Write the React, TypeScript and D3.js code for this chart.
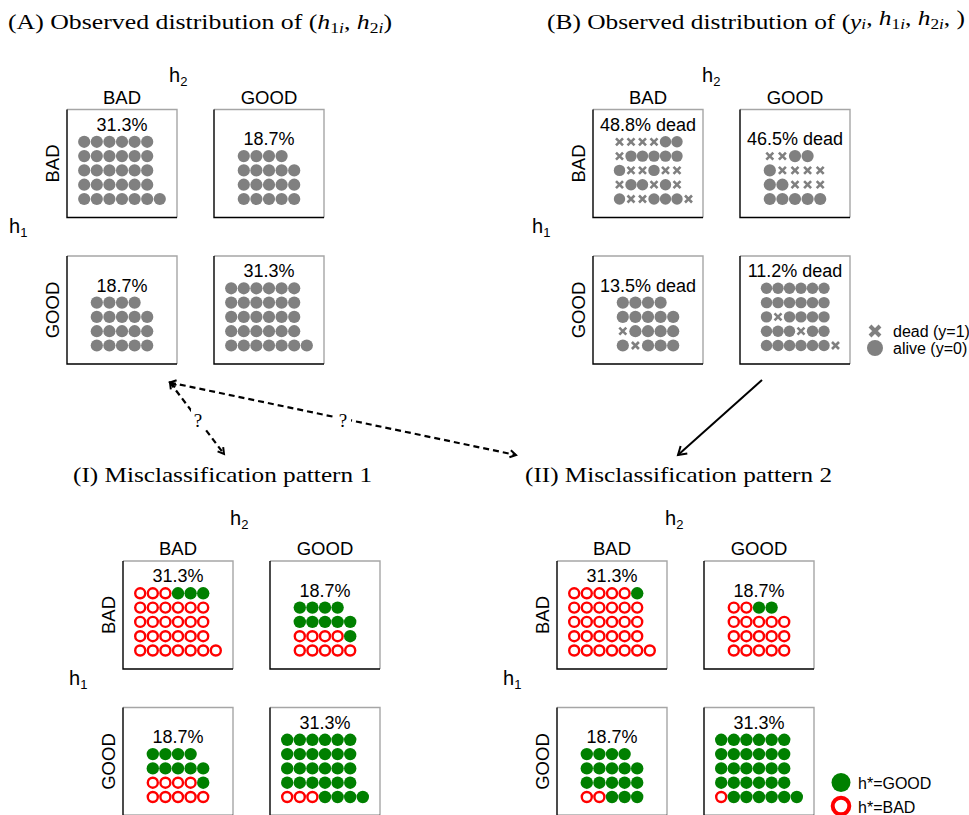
import React from "react";
import * as d3 from "d3";

// ---------------- data ----------------
const h2Levels = ["BAD", "GOOD"];
const h1Levels = ["BAD", "GOOD"];
// cell order: [h1=BAD,h2=BAD], [h1=BAD,h2=GOOD], [h1=GOOD,h2=BAD], [h1=GOOD,h2=GOOD]
const pctA = ["31.3%", "18.7%", "18.7%", "31.3%"];
const pctB = ["48.8% dead", "46.5% dead", "13.5% dead", "11.2% dead"];
const pctI = ["31.3%", "18.7%", "18.7%", "31.3%"];
const pctII = ["31.3%", "18.7%", "18.7%", "31.3%"];

// a = observed unit, x = dead, o = alive, g = h*=GOOD, r = h*=BAD
const marksA = [
  ["aaaaaa", "aaaaaa", "aaaaaa", "aaaaaa", "aaaaaaa"],
  ["aaaa", "aaaaa", "aaaaa", "aaaaa"],
  ["aaaa", "aaaaa", "aaaaa", "aaaaa"],
  ["aaaaaa", "aaaaaa", "aaaaaa", "aaaaaa", "aaaaaaa"],
];
const marksB = [
  ["xxxxoo", "xooooo", "oxxoxx", "xooxox", "oxxooox"],
  ["xxoo", "oxxxx", "ooxxx", "ooooo"],
  ["oooo", "ooooo", "xoooo", "oxooo"],
  ["oooooo", "oooooo", "oxoooo", "oooxoo", "oooooox"],
];
const marksI = [
  ["rrrggg", "rrrrrr", "rrrrrr", "rrrrrr", "rrrrrrr"],
  ["gggg", "ggggg", "rrrrg", "rrrrr"],
  ["gggg", "ggggg", "rrrrg", "rrrrr"],
  ["gggggg", "gggggg", "gggggg", "gggggg", "rrrgggg"],
];
const marksII = [
  ["rrrrrg", "rrrrrr", "rrrrrr", "rrrrrr", "rrrrrrr"],
  ["rrgg", "rrrrr", "rrrrr", "rrrrr"],
  ["gggg", "ggggg", "ggggg", "rrggg"],
  ["gggggg", "gggggg", "gggggg", "gggggg", "rgggggg"],
];
const legendBCodes = ["x", "o"];
const legendBLabels = ["dead (y=1)", "alive (y=0)"];
const legendIICodes = ["g", "r"];
const legendIILabels = ["h*=GOOD", "h*=BAD"];
const arrowLabels = ["?", "?"];

// ---------------- style/layout ----------------
const SANS = "'Liberation Sans', Arial, Helvetica, sans-serif";
const SERIF = "'Liberation Serif', 'Times New Roman', serif";
const GRAY = "#808080";
const GREEN = "#008000";
const RED = "#ff0000";
const BOX_W = 110;
const BOX_H = 108;
const COL_STEP = 147;
const ROW_STEP = 146.5;
const DX = 12.6;
const DY = 14.3;

function Mark({ code, x, y, r }: { code: string; x: number; y: number; r: number }) {
  if (code === "a" || code === "o")
    return <circle cx={x} cy={y} r={r} fill={GRAY} />;
  if (code === "x") {
    const h = 3.5;
    return (
      <path
        d={`M${x - h},${y - h}L${x + h},${y + h}M${x - h},${y + h}L${x + h},${y - h}`}
        stroke={GRAY}
        strokeWidth={2.6}
        fill="none"
      />
    );
  }
  if (code === "g") return <circle cx={x} cy={y} r={6.2} fill={GREEN} />;
  return <circle cx={x} cy={y} r={5} fill="#fff" stroke={RED} strokeWidth={2.4} />;
}

function Cell({
  x0,
  y0,
  rows,
  label,
  dx,
  shift,
  r,
}: {
  x0: number;
  y0: number;
  rows: string[];
  label: string;
  dx: number;
  shift: number;
  r: number;
}) {
  const nRows = rows.length;
  const maxCols = d3.max(rows, (s) => s.length) as number;
  const cx = x0 + BOX_W / 2;
  const gcx = cx + shift;
  const bottomY = y0 + BOX_H - 18.5;
  const xs = d3
    .scaleLinear()
    .domain([0, maxCols - 1])
    .range([gcx - ((maxCols - 1) * dx) / 2, gcx + ((maxCols - 1) * dx) / 2]);
  const ys = d3
    .scaleLinear()
    .domain([0, nRows - 1])
    .range([bottomY - (nRows - 1) * DY, bottomY]);
  return (
    <g>
      <path
        d={`M${x0},${y0}H${x0 + BOX_W}V${y0 + BOX_H}`}
        fill="none"
        stroke="#a6a6a6"
        strokeWidth={1.4}
      />
      <path
        d={`M${x0},${y0}V${y0 + BOX_H}H${x0 + BOX_W}`}
        fill="none"
        stroke="#000"
        strokeWidth={1.4}
      />
      <text x={cx} y={ys(0) - 11} textAnchor="middle" fontFamily={SANS} fontSize={18}>
        {label}
      </text>
      {rows.map((row, i) =>
        row.split("").map((c, j) => (
          <Mark key={`${i}-${j}`} code={c} x={xs(j)} y={ys(i)} r={r} />
        ))
      )}
    </g>
  );
}

function Grid({
  ox,
  oy,
  cells,
  labels,
  h2x,
  h2y,
  h1x,
  h1y,
  wide,
}: {
  ox: number;
  oy: number;
  cells: string[][];
  labels: string[];
  h2x: number;
  h2y: number;
  h1x: number;
  h1y: number;
  wide?: boolean;
}) {
  return (
    <g>
      <text x={h2x} y={h2y} fontFamily={SANS} fontSize={20}>
        h<tspan fontSize={13} dy={4}>2</tspan>
      </text>
      <text x={h1x} y={h1y} fontFamily={SANS} fontSize={20}>
        h<tspan fontSize={13} dy={4}>1</tspan>
      </text>
      {h2Levels.map((lv, j) => (
        <text
          key={"c" + j}
          x={ox + j * COL_STEP + BOX_W / 2}
          y={oy - 6}
          textAnchor="middle"
          fontFamily={SANS}
          fontSize={18.5}
        >
          {lv}
        </text>
      ))}
      {h1Levels.map((lv, i) => (
        <text
          key={"r" + i}
          transform={`translate(${ox - 8},${oy + i * ROW_STEP + BOX_H / 2}) rotate(-90)`}
          textAnchor="middle"
          fontFamily={SANS}
          fontSize={18.5}
        >
          {lv}
        </text>
      ))}
      {cells.map((rows, k) => {
        const i = Math.floor(k / 2);
        const j = k % 2;
        const big = rows.length === 5;
        return (
          <Cell
            key={k}
            x0={ox + j * COL_STEP}
            y0={oy + i * ROW_STEP}
            rows={rows}
            label={labels[k]}
            dx={wide && big ? 11.5 : DX}
            shift={wide && big ? 6 : 0}
            r={wide && big ? 5.7 : 6.1}
          />
        );
      })}
    </g>
  );
}

function Sub({ t, it }: { t: string; it?: string }) {
  return (
    <>
      <tspan fontSize={15} dy={4}>
        {t}
      </tspan>
      {it ? (
        <tspan fontSize={15} fontStyle="italic">
          {it}
        </tspan>
      ) : null}
    </>
  );
}

export default function App() {
  const qx1 = 198,
    qy1 = 420,
    qx2 = 343,
    qy2 = 420;
  return (
    <svg
      width={969}
      height={815}
      style={{ position: "absolute", left: 0, top: 0, background: "#fff" }}
    >
      <defs>
        <marker
          id="ahd"
          viewBox="-10 -8 14 16"
          refX={0}
          refY={0}
          markerWidth={14}
          markerHeight={16}
          markerUnits="userSpaceOnUse"
          orient="auto-start-reverse"
        >
          <path d="M-6,-3.5 L0,0 L-6,3.5" fill="none" stroke="#000" strokeWidth={2} />
        </marker>
        <marker
          id="ahs"
          viewBox="-12 -8 16 16"
          refX={0}
          refY={0}
          markerWidth={16}
          markerHeight={16}
          markerUnits="userSpaceOnUse"
          orient="auto"
        >
          <path d="M-8,-5 L0,0 L-8,5" fill="none" stroke="#000" strokeWidth={2} />
        </marker>
      </defs>
      <rect width={969} height={815} fill="#fff" />

      {/* titles */}
      <text x={8} y={29} fontFamily={SERIF} fontSize={22} textLength={384} lengthAdjust="spacingAndGlyphs">
        {"(A) Observed distribution of ("}
        <tspan fontStyle="italic">h</tspan>
        <Sub t="1" it="i" />
        <tspan dy={-4}>{", "}</tspan>
        <tspan fontStyle="italic">h</tspan>
        <Sub t="2" it="i" />
        <tspan dy={-4}>{")"}</tspan>
      </text>
      <text x={547} y={29} fontFamily={SERIF} fontSize={22} textLength={418} lengthAdjust="spacingAndGlyphs">
        {"(B) Observed distribution of ("}
        <tspan fontStyle="italic">y</tspan>
        <Sub t="" it="i" />
        <tspan dy={-4}>{", "}</tspan>
        <tspan fontStyle="italic">h</tspan>
        <Sub t="1" it="i" />
        <tspan dy={-4}>{", "}</tspan>
        <tspan fontStyle="italic">h</tspan>
        <Sub t="2" it="i" />
        <tspan dy={-4}>{", )"}</tspan>
      </text>
      <text x={73} y={482} fontFamily={SERIF} fontSize={22} textLength={299} lengthAdjust="spacingAndGlyphs">
        (I) Misclassification pattern 1
      </text>
      <text x={525} y={482} fontFamily={SERIF} fontSize={22} textLength={307} lengthAdjust="spacingAndGlyphs">
        (II) Misclassification pattern 2
      </text>

      <Grid ox={67} oy={109.5} cells={marksA} labels={pctA} h2x={169} h2y={82} h1x={9} h1y={233} />
      <Grid ox={593} oy={109.5} cells={marksB} labels={pctB} h2x={702} h2y={82} h1x={532} h1y={233} wide />
      <Grid ox={123} oy={561} cells={marksI} labels={pctI} h2x={230} h2y={525} h1x={69} h1y={685} />
      <Grid ox={557} oy={561} cells={marksII} labels={pctII} h2x={665} h2y={525} h1x={503} h1y={685} />

      {/* legend B */}
      {legendBCodes.map((c, i) => {
        const y = 331 + i * 17;
        return (
          <g key={c}>
            {c === "x" ? (
              <path
                d={`M870,${y - 5}L880,${y + 5}M870,${y + 5}L880,${y - 5}`}
                stroke={GRAY}
                strokeWidth={4}
              />
            ) : (
              <circle cx={875} cy={y} r={8} fill={GRAY} />
            )}
            <text x={893} y={y + 6} fontFamily={SANS} fontSize={16}>
              {legendBLabels[i]}
            </text>
          </g>
        );
      })}

      {/* legend II */}
      {legendIICodes.map((c, i) => {
        const y = 782.5 + i * 23.5;
        return (
          <g key={c}>
            {c === "g" ? (
              <circle cx={841} cy={y} r={9.5} fill={GREEN} />
            ) : (
              <circle cx={841} cy={y} r={8.3} fill="#fff" stroke={RED} strokeWidth={4} />
            )}
            <text x={858} y={y + 6.5} fontFamily={SANS} fontSize={16}>
              {legendIILabels[i]}
            </text>
          </g>
        );
      })}

      {/* arrows */}
      <line
        x1={170}
        y1={382.5}
        x2={224}
        y2={454}
        stroke="#000"
        strokeWidth={2.2}
        strokeDasharray="6 4"
        markerStart="url(#ahd)"
        markerEnd="url(#ahd)"
      />
      <line
        x1={170}
        y1={382.5}
        x2={516}
        y2={455}
        stroke="#000"
        strokeWidth={2.2}
        strokeDasharray="6 4"
        markerStart="url(#ahd)"
        markerEnd="url(#ahd)"
      />
      <rect x={qx1 - 7} y={qy1 - 11} width={14} height={22} fill="#fff" />
      <rect x={qx2 - 8} y={qy2 - 11} width={16} height={22} fill="#fff" />
      <text x={qx1} y={qy1 + 7} textAnchor="middle" fontFamily={SERIF} fontSize={19}>
        {arrowLabels[0]}
      </text>
      <text x={qx2} y={qy2 + 7} textAnchor="middle" fontFamily={SERIF} fontSize={19}>
        {arrowLabels[1]}
      </text>
      <line x1={762} y1={380} x2={678} y2={455} stroke="#000" strokeWidth={2} markerEnd="url(#ahs)" />
    </svg>
  );
}
